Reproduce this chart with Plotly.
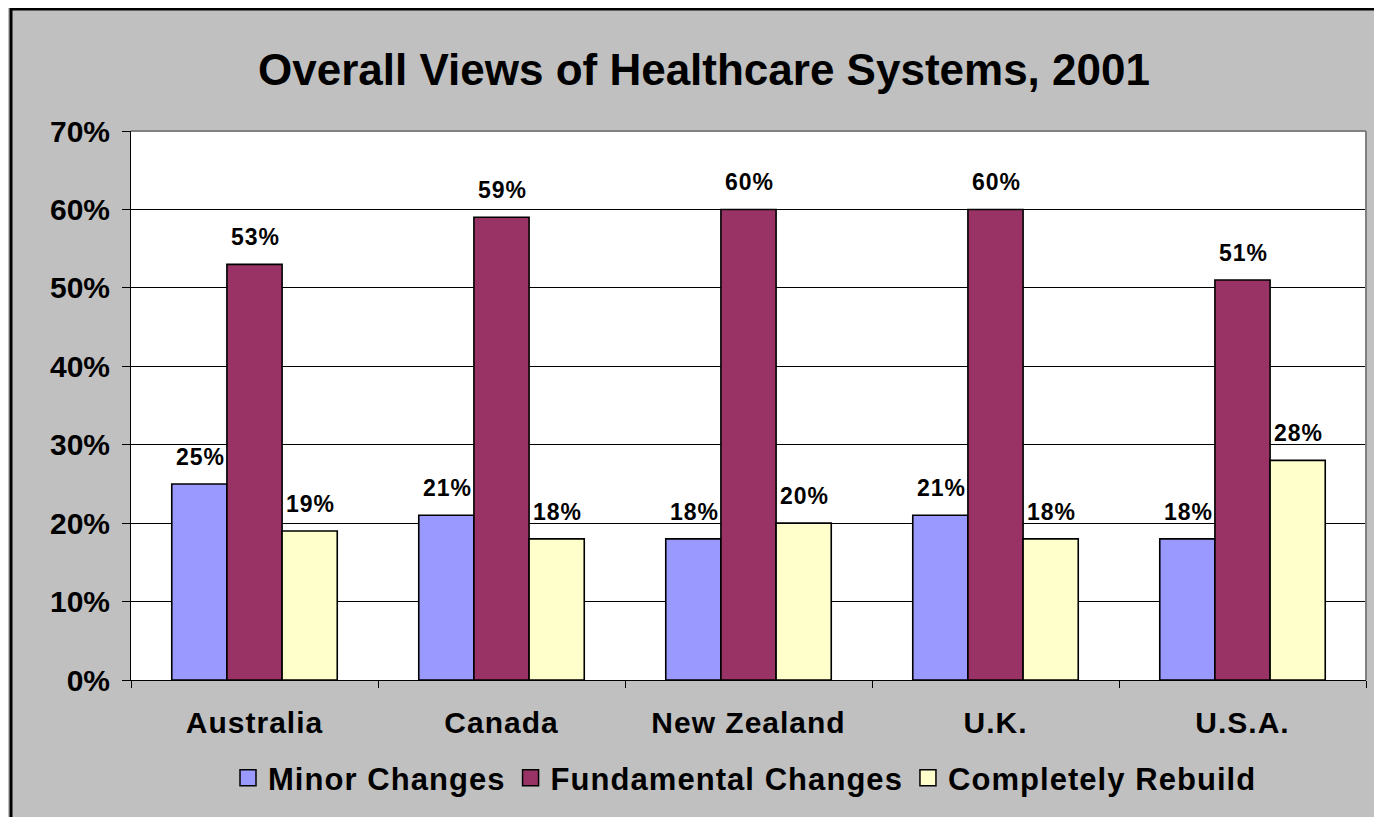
import plotly.graph_objects as go

countries = ["Australia", "Canada", "New Zealand", "U.K.", "U.S.A."]
minor = [0.25, 0.21, 0.18, 0.21, 0.18]
fundamental = [0.53, 0.59, 0.60, 0.60, 0.51]
rebuild = [0.19, 0.18, 0.20, 0.18, 0.28]
series_names = ["Minor Changes", "Fundamental Changes", "Completely Rebuild"]
series_colors = ["#9999FF", "#993366", "#FFFFCC"]
series_values = [minor, fundamental, rebuild]
title_text = "Overall Views of Healthcare Systems, 2001"


def spaced(s, px):
    return f'<span style="letter-spacing:{px}px">{s}</span>'


# page body has an 8px margin, so the figure is offset by 8px
OFF = 8
W, H = 1382, 817 - OFF
L, T = 131 - OFF, 131 - OFF
R = W - (1366 - OFF)
B = H - (680 - OFF)
pw, ph = W - L - R, H - T - B

fig = go.Figure()
for name, vals, col in zip(series_names, series_values, series_colors):
    fig.add_trace(go.Bar(
        x=countries, y=vals, name=name, showlegend=False,
        marker=dict(color=col, line=dict(color="black", width=1.6)),
    ))
for name, col in zip(series_names, series_colors):
    fig.add_trace(go.Scatter(
        x=[None], y=[None], mode="markers", name=spaced(name, 1.05),
        marker=dict(symbol="square", size=17, color=col,
                    line=dict(color="black", width=1.5)),
    ))

offsets = [-55, 0, 55]
for vals, off in zip(series_values, offsets):
    for c, v in zip(countries, vals):
        fig.add_annotation(
            x=c, y=v, xref="x", yref="y", text=spaced(f"{round(v*100)}%", 1),
            showarrow=False, xshift=off + 1, yshift=27, yanchor="middle",
            font=dict(family="Liberation Sans, Arial, sans-serif", size=23,
                      color="black", weight="bold"),
        )

# outer chart border (black) and plot area border (gray)
fig.add_shape(type="rect", xref="paper", yref="paper",
              x0=(11 - OFF - L) / pw, x1=1.2, y0=-0.4, y1=1 + (T - (9 - OFF)) / ph,
              line=dict(color="black", width=3), layer="above")
fig.add_shape(type="line", xref="paper", yref="paper",
              x0=0, x1=1, y0=1, y1=1,
              line=dict(color="#808080", width=2), layer="above")
fig.add_shape(type="line", xref="paper", yref="paper",
              x0=1, x1=1, y0=0, y1=1,
              line=dict(color="#808080", width=2), layer="above")

font_b = dict(family="Liberation Sans, Arial, sans-serif", color="black", weight="bold")

fig.update_layout(
    width=W, height=H,
    margin=dict(l=L, r=R, t=T, b=B, pad=0),
    paper_bgcolor="#C0C0C0", plot_bgcolor="white",
    barmode="group", bargap=0.33, bargroupgap=0,
    title=dict(text=title_text, x=(704 - OFF) / W, xanchor="center",
               y=1 - (70 - OFF) / H, yanchor="middle", xref="container", yref="container",
               font=dict(size=44, **font_b)),
    legend=dict(orientation="h", x=(745 - OFF - L) / pw, xanchor="center",
                y=-98 / ph, yanchor="middle",
                font=dict(size=31, **font_b), bgcolor="rgba(0,0,0,0)",
                itemsizing="trace", itemwidth=30, tracegroupgap=0),
    xaxis=dict(type="category", showgrid=False, showline=True, linecolor="black",
               linewidth=1, ticks="outside", ticklen=7, tickcolor="black",
               tickson="boundaries", ticklabelstandoff=16,
               tickvals=countries, ticktext=[spaced(c, 1) for c in countries],
               tickfont=dict(size=30, **font_b)),
    yaxis=dict(range=[0, 0.7], dtick=0.1, tickformat=".0%", showgrid=True,
               gridcolor="black", gridwidth=1, showline=True, linecolor="black",
               linewidth=1, ticks="outside", ticklen=8, tickcolor="black",
               ticklabelstandoff=6, zeroline=False,
               tickfont=dict(size=30, **font_b)),
)

fig.write_html("out.html")
